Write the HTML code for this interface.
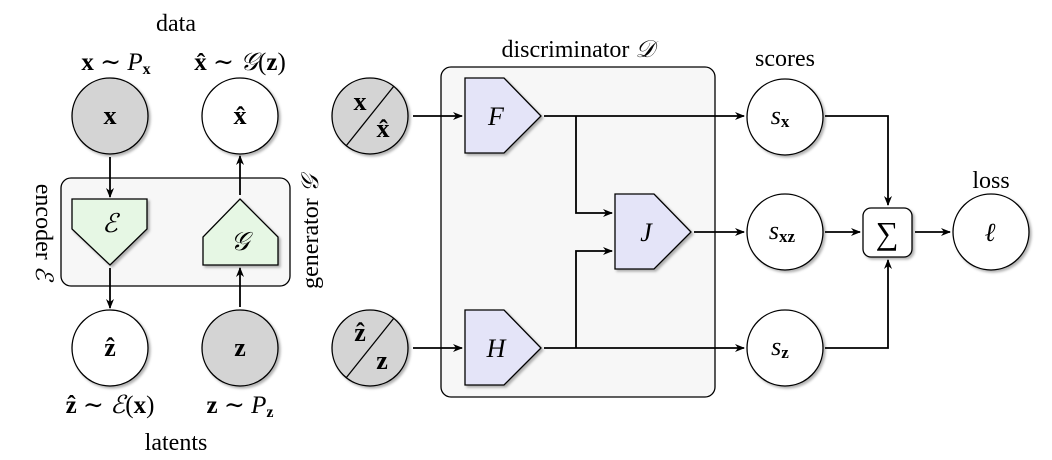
<!DOCTYPE html>
<html><head><meta charset="utf-8"><style>
html,body{margin:0;padding:0;background:#fff;}
svg{display:block;}
svg text{font-family:"Liberation Serif","DejaVu Serif",serif;fill:#000;}
.b{font-weight:bold;}
.i{font-style:italic;}
</style></head><body>
<svg width="1052" height="460" viewBox="0 0 1052 460" xmlns="http://www.w3.org/2000/svg">
<defs>
<marker id="a" markerWidth="10" markerHeight="8" refX="9" refY="4" orient="auto" markerUnits="userSpaceOnUse">
<path d="M0,0 L10,4 L0,8 L3,4 Z" fill="#000"/></marker>
<filter id="s" x="-20%" y="-20%" width="150%" height="150%"><feDropShadow dx="2" dy="2" stdDeviation="1.2" flood-color="#000" flood-opacity="0.3"/></filter>
</defs>
<g stroke="#000" stroke-width="1.3">
<rect x="61" y="178" width="229" height="108" rx="10" fill="#f7f7f7"/>
<rect x="441" y="67" width="274" height="330" rx="10" fill="#f7f7f7"/>
<circle cx="110" cy="116" r="38" fill="#d4d4d4" filter="url(#s)"/>
<circle cx="240" cy="116" r="38" fill="#fff" filter="url(#s)"/>
<circle cx="110" cy="348" r="38" fill="#fff" filter="url(#s)"/>
<circle cx="240" cy="348" r="38" fill="#d4d4d4" filter="url(#s)"/>
<polygon points="72,199 147,199 147,229 110,265 72,229" fill="#e6f7e4" filter="url(#s)"/>
<polygon points="240,199 278,237 278,265 203,265 203,237" fill="#e6f7e4" filter="url(#s)"/>
<circle cx="370" cy="116" r="38" fill="#d4d4d4" filter="url(#s)"/>
<line x1="346" y1="146" x2="394" y2="86"/>
<circle cx="370" cy="348" r="38" fill="#d4d4d4" filter="url(#s)"/>
<line x1="346" y1="378" x2="394" y2="318"/>
<polygon points="465,78 504,78 541,116 504,153 465,153" fill="#e4e4f8" filter="url(#s)"/>
<polygon points="465,310 504,310 541,348 504,385 465,385" fill="#e4e4f8" filter="url(#s)"/>
<polygon points="615,194 654,194 691,232 654,269 615,269" fill="#e4e4f8" filter="url(#s)"/>
<circle cx="785" cy="117" r="38" fill="#fff" filter="url(#s)"/>
<circle cx="785" cy="232" r="38" fill="#fff" filter="url(#s)"/>
<circle cx="785" cy="348" r="38" fill="#fff" filter="url(#s)"/>
<rect x="863" y="208" width="49" height="49" rx="8" fill="#fff" filter="url(#s)"/>
<circle cx="991" cy="232" r="38" fill="#fff" filter="url(#s)"/>
</g>
<g stroke="#000" stroke-width="1.8" fill="none" marker-end="url(#a)">
<line x1="110" y1="157" x2="110" y2="197"/>
<line x1="110" y1="268" x2="110" y2="308"/>
<line x1="240" y1="307" x2="240" y2="268"/>
<line x1="240" y1="195" x2="240" y2="156"/>
<line x1="413" y1="116" x2="462" y2="116"/>
<line x1="413" y1="348" x2="462" y2="348"/>
<line x1="544" y1="116" x2="744" y2="116"/>
<line x1="544" y1="348" x2="744" y2="348"/>
<polyline points="576,116 576,213 612,213"/>
<polyline points="576,348 576,251 612,251"/>
<line x1="694" y1="232" x2="744" y2="232"/>
<polyline points="825,116 888,116 888,205"/>
<polyline points="825,348 888,348 888,260"/>
<line x1="825" y1="232" x2="860" y2="232"/>
<line x1="915" y1="232" x2="950" y2="232"/>
</g>
<g font-size="24" text-anchor="middle" font-family="Liberation Serif, DejaVu Serif, serif">
<text x="176" y="31">data</text>
<text x="176" y="450">latents</text>
<text x="578" y="57">discriminator <tspan class="i">𝒟</tspan></text>
<text x="785" y="66">scores</text>
<text x="991" y="188">loss</text>
<text x="116" y="70" font-size="25"><tspan class="b">x</tspan> ∼ <tspan class="i">P</tspan><tspan class="b" font-size="16" dy="4">x</tspan></text>
<text x="240" y="70" font-size="25"><tspan class="b">x̂</tspan> ∼ <tspan class="i">𝒢</tspan>(<tspan class="b">z</tspan>)</text>
<text x="110" y="413" font-size="25"><tspan class="b">ẑ</tspan> ∼ <tspan class="i">ℰ</tspan>(<tspan class="b">x</tspan>)</text>
<text x="240" y="413" font-size="25"><tspan class="b">z</tspan> ∼ <tspan class="i">P</tspan><tspan class="b" font-size="16" dy="4">z</tspan></text>
<text x="110" y="124" class="b" font-size="26">x</text>
<text x="240" y="124" class="b" font-size="26">x̂</text>
<text x="110" y="356" class="b" font-size="26">ẑ</text>
<text x="240" y="356" class="b" font-size="26">z</text>
<text x="110" y="232" class="i" font-size="26">ℰ</text>
<text x="240" y="250" class="i" font-size="26">𝒢</text>
<text x="360" y="110" class="b" font-size="26">x</text>
<text x="383" y="137" class="b" font-size="26">x̂</text>
<text x="360" y="341" class="b" font-size="26">ẑ</text>
<text x="382" y="369" class="b" font-size="26">z</text>
<text x="496" y="125" class="i" font-size="26">F</text>
<text x="496" y="357" class="i" font-size="26">H</text>
<text x="646" y="241" class="i" font-size="26">J</text>
<text x="780" y="124" font-size="26"><tspan class="i">s</tspan><tspan class="b" font-size="17" dy="3">x</tspan></text>
<text x="782" y="239" font-size="26"><tspan class="i">s</tspan><tspan class="b" font-size="17" dy="3">xz</tspan></text>
<text x="780" y="355" font-size="26"><tspan class="i">s</tspan><tspan class="b" font-size="17" dy="3">z</tspan></text>
<text x="887" y="244" font-size="32">∑</text>
<text x="990" y="241" class="i" font-size="26">ℓ</text>
<text transform="translate(36,232) rotate(90)">encoder <tspan class="i">ℰ</tspan></text>
<text transform="translate(318,232) rotate(-90)">generator <tspan class="i">𝒢</tspan></text>
</g>
</svg>
</body></html>
